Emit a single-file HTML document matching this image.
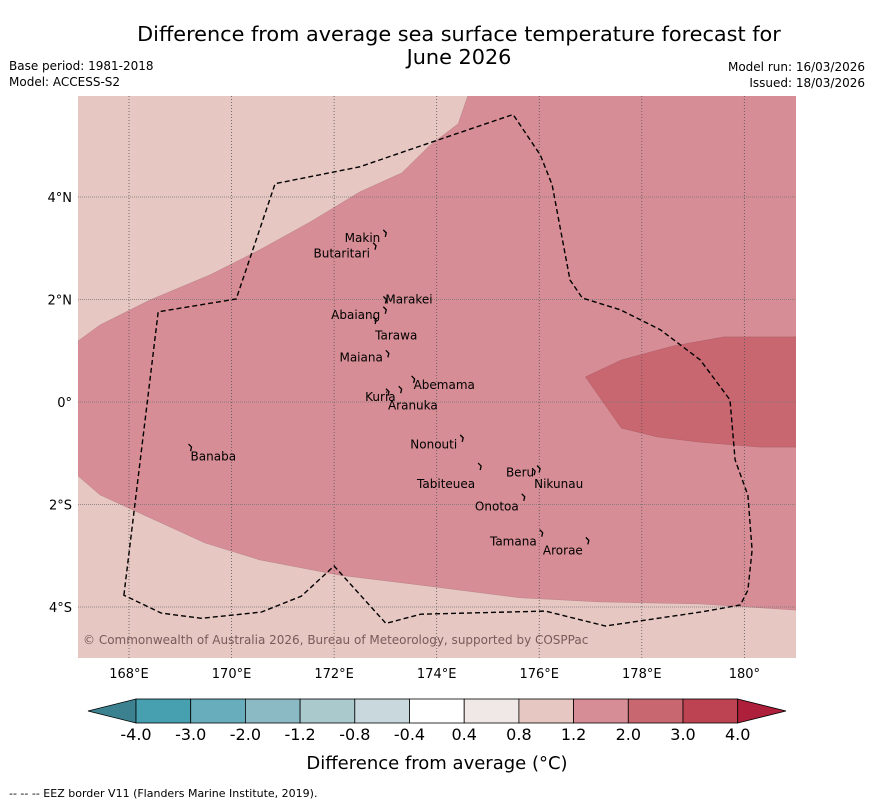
<!DOCTYPE html>
<html><head><meta charset="utf-8">
<style>
body{margin:0;background:#fff;width:873px;height:804px;overflow:hidden;font-family:"Liberation Sans","DejaVu Sans",sans-serif}
svg{position:absolute;left:0;top:0}
</style></head>
<body>
<svg id="c" width="873" height="804" font-family="DejaVu Sans, Liberation Sans, sans-serif">
<text x="459" y="41" font-size="20.8" text-anchor="middle">Difference from average sea surface temperature forecast for</text>
<text x="459" y="64" font-size="20.8" text-anchor="middle">June 2026</text>
<text x="9" y="70" font-size="12">Base period: 1981-2018</text>
<text x="9" y="86" font-size="12">Model: ACCESS-S2</text>
<text x="865" y="71" font-size="12" text-anchor="end">Model run: 16/03/2026</text>
<text x="865" y="87" font-size="12" text-anchor="end">Issued: 18/03/2026</text>
<g id="map"></g>
<g id="cbar"></g>
<text x="437" y="769" font-size="18" text-anchor="middle">Difference from average (°C)</text>
<text x="9" y="797" font-size="11">--  --  -- EEZ border V11 (Flanders Marine Institute, 2019).</text>
</svg>
<script>
const lonTicks=[168,170,172,174,176,178,180];
const lonLabels=["168°E","170°E","172°E","174°E","176°E","178°E","180°"];
const latTicks=[4,2,0,-2,-4];
const latLabels=["4°N","2°N","0°","2°S","4°S"];
const cbLevels=["-4.0","-3.0","-2.0","-1.2","-0.8","-0.4","0.4","0.8","1.2","2.0","3.0","4.0"];
const cbColors=["#46a0b0","#68adbb","#8bbac5","#a9c9cd","#c8d8dc","#ffffff","#efe8e6","#e6c7c2","#d68d95","#c96771","#be4352"];
// contour regions in [lon,lat]
const regionBand=[[174.65,6.1],[182,6.1],[182,-4.06],[181,-4.06],[179.13,-3.94],[177.18,-3.9],[175.62,-3.82],[173.67,-3.57],[172.11,-3.38],[170.55,-3.08],[169.48,-2.75],[168.41,-2.26],[167.43,-1.81],[166.98,-1.42],[166.98,1.17],[167.43,1.5],[168.41,1.99],[169.58,2.48],[170.55,2.97],[171.53,3.51],[172.5,4.1],[173.32,4.47],[173.87,5.01],[174.42,5.43]];
const regionWarm=[[176.9,0.49],[177.6,0.82],[178.6,1.09],[179.6,1.27],[182,1.27],[182,-0.88],[180.3,-0.88],[179.1,-0.78],[178.3,-0.68],[177.6,-0.51]];
const eez=[[167.9,-3.77],[168.57,1.76],[170.09,2.01],[170.85,4.26],[172.5,4.59],[173.87,5.06],[175.49,5.61],[176.02,4.82],[176.25,4.24],[176.6,2.38],[176.84,2.03],[177.58,1.8],[178.36,1.41],[179.14,0.82],[179.72,0.04],[179.82,-1.13],[180.07,-1.82],[180.15,-2.89],[180.07,-3.67],[179.92,-3.96],[179.14,-4.1],[177.29,-4.37],[176.12,-4.08],[173.69,-4.14],[173.01,-4.32],[172,-3.2],[171.36,-3.79],[170.58,-4.1],[169.41,-4.22],[168.63,-4.12]];
const islands=[["Makin",172.9,3.2,"end",3.3],["Butaritari",172.7,2.9,"end",3.05],["Marakei",173.0,2.0,"start",2.0],["Abaiang",172.9,1.7,"end",1.8],["Tarawa",172.8,1.3,"start",1.6],["Maiana",172.95,0.87,"end",0.95],["Abemama",173.55,0.33,"start",0.45],["Kuria",173.2,0.1,"end",0.25],["Aranuka",173.05,-0.07,"start",0.2],["Nonouti",174.4,-0.83,"end",-0.7],["Banaba",169.2,-1.06,"start",-0.88],["Beru",175.9,-1.38,"end",-1.3],["Nikunau",175.9,-1.6,"start",-1.35],["Tabiteuea",174.75,-1.6,"end",-1.25],["Onotoa",175.6,-2.04,"end",-1.85],["Tamana",175.95,-2.72,"end",-2.55],["Arorae",176.85,-2.9,"end",-2.7]];
const X=lon=>129+(lon-168)*51.28;
const Y=lat=>402-lat*51.25;
const NS="http://www.w3.org/2000/svg";
function mk(t,a,p){const e=document.createElementNS(NS,t);for(const k in a)e.setAttribute(k,a[k]);p.appendChild(e);return e;}
const map=document.getElementById('map');
const defs=mk('defs',{},map);const cp=mk('clipPath',{id:'mc'},defs);mk('rect',{x:78,y:96,width:718,height:562},cp);
const g=mk('g',{'clip-path':'url(#mc)'},map);
const bg=mk('rect',{x:78,y:96,width:718,height:562,fill:'#e6c7c2'},g);

const pts=a=>a.map(p=>X(p[0]).toFixed(1)+','+Y(p[1]).toFixed(1)).join(' ');
const b=mk('polygon',{points:pts(regionBand),fill:'#d68d95',stroke:'#b07880','stroke-width':0.4},g);

const w=mk('polygon',{points:pts(regionWarm),fill:'#c96771',stroke:'#a85860','stroke-width':0.4},g);

lonTicks.forEach((l,i)=>{const ln=mk('line',{x1:X(l),x2:X(l),y1:96,y2:658,stroke:'#555','stroke-width':0.8,'stroke-dasharray':'1,2'},g);

const t=mk('text',{x:X(l),y:678,'font-size':13,'text-anchor':'middle'},map);t.textContent=lonLabels[i];
});
latTicks.forEach((l,i)=>{const ln=mk('line',{x1:78,x2:796,y1:Y(l),y2:Y(l),stroke:'#777','stroke-width':0.8,'stroke-dasharray':'1,1'},g);

const t=mk('text',{x:72,y:Y(l)+5,'font-size':13,'text-anchor':'end'},map);t.textContent=latLabels[i];
});
const e=mk('polygon',{points:pts(eez),fill:'none',stroke:'#000','stroke-width':1.4,'stroke-dasharray':'5,3'},g);

islands.forEach(s=>{const t=mk('text',{x:X(s[1]),y:Y(s[2])+4,'font-size':12,'text-anchor':s[3]},g);t.textContent=s[0];

const d=mk('path',{d:`M${X(s[1])+(s[3]=='end'?3:-2)},${Y(s[4])-3} l3,3 l-1,4`,stroke:'#000',fill:'none','stroke-width':1.3},g);
});
const cr=mk('text',{x:83,y:644,'font-size':12,fill:'#7a5a5a'},g);cr.textContent='© Commonwealth of Australia 2026, Bureau of Meteorology, supported by COSPPac';

// colorbar
const cb=document.getElementById('cbar');const x0=136,cw=54.7,y0=699,h=24;
const lt=mk('polygon',{points:`${x0},${y0} 88,${y0+h/2} ${x0},${y0+h}`,fill:'#3b818f',stroke:'#000','stroke-width':0.8},cb);

cbColors.forEach((c,i)=>{const r=mk('rect',{x:x0+i*cw,y:y0,width:cw,height:h,fill:c,stroke:'#000','stroke-width':0.8},cb);
});
const xe=x0+cbColors.length*cw;
const rt=mk('polygon',{points:`${xe},${y0} 786,${y0+h/2} ${xe},${y0+h}`,fill:'#ad1f3a',stroke:'#000','stroke-width':0.8},cb);

cbLevels.forEach((v,i)=>{const t=mk('text',{x:x0+i*cw,y:740,'font-size':16,'text-anchor':'middle'},cb);t.textContent=v;
});
</script>
</body></html>
